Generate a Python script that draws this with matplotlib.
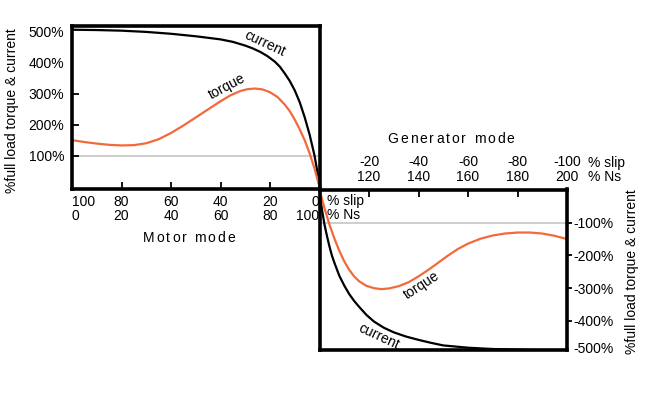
import matplotlib
matplotlib.use('Agg')
import matplotlib.pyplot as plt
from matplotlib.font_manager import FontProperties, findfont
from matplotlib.ft2font import FT2Font

FONT = 'Liberation Sans'
plt.rcParams['font.family'] = [FONT, 'DejaVu Sans']
plt.rcParams['font.size'] = 10

# ---------------- data ----------------
# Motor mode (slip 100 -> 0 %)
motor_slip = [100, 95, 90, 85, 80, 75, 70, 65, 60, 55, 50, 45, 40, 36, 32, 29, 26,
              23, 20, 17, 14, 12, 10, 8, 6, 4, 2, 0]
motor_torque = [150, 144, 139, 135, 133, 134, 140, 153, 173, 197, 223, 249, 275, 294,
                308, 314, 316, 313, 304, 289, 264, 243, 216, 185, 150, 108, 58, 0]
motor_cur_slip = [100, 90, 80, 70, 60, 50, 45, 40, 35, 30, 27, 24, 21, 18, 16, 14, 12,
                  10, 8, 6, 4, 2, 1, 0]
motor_current = [505, 504, 502, 498, 492, 484, 479, 474, 466, 454, 445, 434, 420, 402,
                 386, 364, 340, 310, 272, 224, 168, 100, 55, 0]

# Generator mode (slip 0 -> -100 %)
gen_slip = [0, -2, -4, -6, -8, -10, -12, -14, -16, -19, -22, -25, -28, -32, -36, -40,
            -44, -48, -52, -56, -60, -65, -70, -75, -80, -85, -90, -95, -100]
gen_torque = [0, -55, -105, -148, -186, -218, -244, -264, -279, -293, -300, -303, -301,
              -294, -282, -264, -244, -222, -200, -180, -164, -149, -139, -133, -130,
              -130, -133, -140, -150]
gen_cur_slip = [0, -1, -2, -3, -4, -5, -6, -8, -10, -12, -14, -16, -19, -22, -26, -30,
                -35, -40, -45, -50, -60, -70, -80, -90, -100]
gen_current = [0, -60, -105, -140, -172, -200, -222, -262, -292, -318, -339, -357,
               -382, -402, -421, -435, -448, -458, -467, -475, -482, -486, -488, -490,
               -490]

# ticks / labels
motor_slip_ticks = [100, 80, 60, 40, 20, 0]
motor_ns_ticks = [0, 20, 40, 60, 80, 100]
gen_slip_ticks = [-20, -40, -60, -80, -100]
gen_ns_ticks = [120, 140, 160, 180, 200]
left_y_ticks = [100, 200, 300, 400, 500]
right_y_ticks = [-100, -200, -300, -400]
right_y_extra = -500

ORANGE = '#f26a3b'
GREY = '#c6c6c6'
W, H = 651, 393

fig = plt.figure(figsize=(W / 100, H / 100), dpi=100)


def fr(x0, y_top, x1, y_bot):
    return [x0 / W, 1 - y_bot / H, (x1 - x0) / W, (y_bot - y_top) / H]


ax1 = fig.add_axes(fr(72, 26, 319.5, 189))
ax2 = fig.add_axes(fr(319.5, 189.5, 567, 350))
ax1.set_xlim(100, 0)
ax1.set_ylim(-7, 517)
ax2.set_xlim(0, -100)
ax2.set_ylim(-489, 1.5)

for ax in (ax1, ax2):
    for s in ax.spines.values():
        s.set_linewidth(2.6)
        s.set_color('black')
    ax.patch.set_visible(False)

# reference lines
ax1.axhline(100, color=GREY, lw=1.2, zorder=1)
ax2.axhline(-100, color=GREY, lw=1.2, zorder=1)

# curves
ax1.plot(motor_cur_slip, motor_current, color='black', lw=1.6)
ax1.plot(motor_slip, motor_torque, color=ORANGE, lw=1.6)
ax2.plot(gen_cur_slip, gen_current, color='black', lw=1.6)
ax2.plot(gen_slip, gen_torque, color=ORANGE, lw=1.6)

# curve labels
ax1.text(21.9, 462, 'current', rotation=-25, ha='center', va='center',
         rotation_mode='anchor')
ax1.text(37.3, 322, 'torque', rotation=28, ha='center', va='center',
         rotation_mode='anchor')
ax2.text(-41.4, -291, 'torque', rotation=33, ha='center', va='center',
         rotation_mode='anchor')
ax2.text(-24, -447, 'current', rotation=-25, ha='center', va='center',
         rotation_mode='anchor')

# left axes ticks
ax1.set_yticks(left_y_ticks, labels=[f'{v}%' for v in left_y_ticks])
ax1.tick_params(axis='y', direction='in', length=5, width=1.3, pad=5.5)
for t in ax1.yaxis.get_major_ticks()[3:]:
    t.tick1line.set_visible(False)
ax1.set_xticks(motor_slip_ticks,
               labels=[f'{a}\n{b}' for a, b in zip(motor_slip_ticks, motor_ns_ticks)])
ax1.tick_params(axis='x', direction='in', length=5, width=1.3, pad=4)
xl = ax1.get_xticklabels()
for lab in xl:
    lab.set_linespacing(1.05)
xl[0].set_ha('left')
xl[-1].set_ha('right')

# right axes ticks
ax2.xaxis.tick_top()
ax2.set_xticks(gen_slip_ticks,
               labels=[f'{a}\n{b}' for a, b in zip(gen_slip_ticks, gen_ns_ticks)])
ax2.tick_params(axis='x', direction='in', length=5, width=1.3, pad=4)
for lab in ax2.get_xticklabels():
    lab.set_linespacing(1.1)
ax2.yaxis.tick_right()
ax2.set_yticks(right_y_ticks, labels=[f'{v}%' for v in right_y_ticks])
ax2.tick_params(axis='y', direction='out', length=3.5, width=1.3, pad=0.8)
ax2.annotate(f'{right_y_extra}%', xy=(1, -485), xycoords=('axes fraction', 'data'),
             xytext=(4.3, 0), textcoords='offset points', ha='left', va='center')

# unit labels
fig.text(327 / W, 1 - 201.5 / H, '% slip', ha='left', va='center')
fig.text(327 / W, 1 - 215 / H, '% Ns', ha='left', va='center')
fig.text(588 / W, 1 - 163 / H, '% slip', ha='left', va='center')
fig.text(588 / W, 1 - 177 / H, '% Ns', ha='left', va='center')

# axis titles
fig.text(12 / W, 1 - 111 / H, '%full load torque & current', rotation=90,
         ha='center', va='center')
fig.text(632 / W, 1 - 272 / H, '%full load torque & current', rotation=90,
         ha='center', va='center')


def tracked_text(cx, cy, s, size=10, track_px=2.0):
    prop = FontProperties(family=FONT, size=size)
    font = FT2Font(findfont(prop))
    font.set_size(size, 100)
    advs = []
    for ch in s:
        g = font.load_char(ord(ch))
        advs.append(g.linearHoriAdvance / 65536.0)
    total = sum(advs) + track_px * (len(s) - 1)
    x = cx - total / 2
    for ch, a in zip(s, advs):
        if ch != ' ':
            fig.text(x / W, 1 - cy / H, ch, ha='left', va='center', fontproperties=prop)
        x += a + track_px


tracked_text(189, 238, 'Motor mode')
tracked_text(451, 139, 'Generator mode')

fig.savefig('out.png', dpi=100)
